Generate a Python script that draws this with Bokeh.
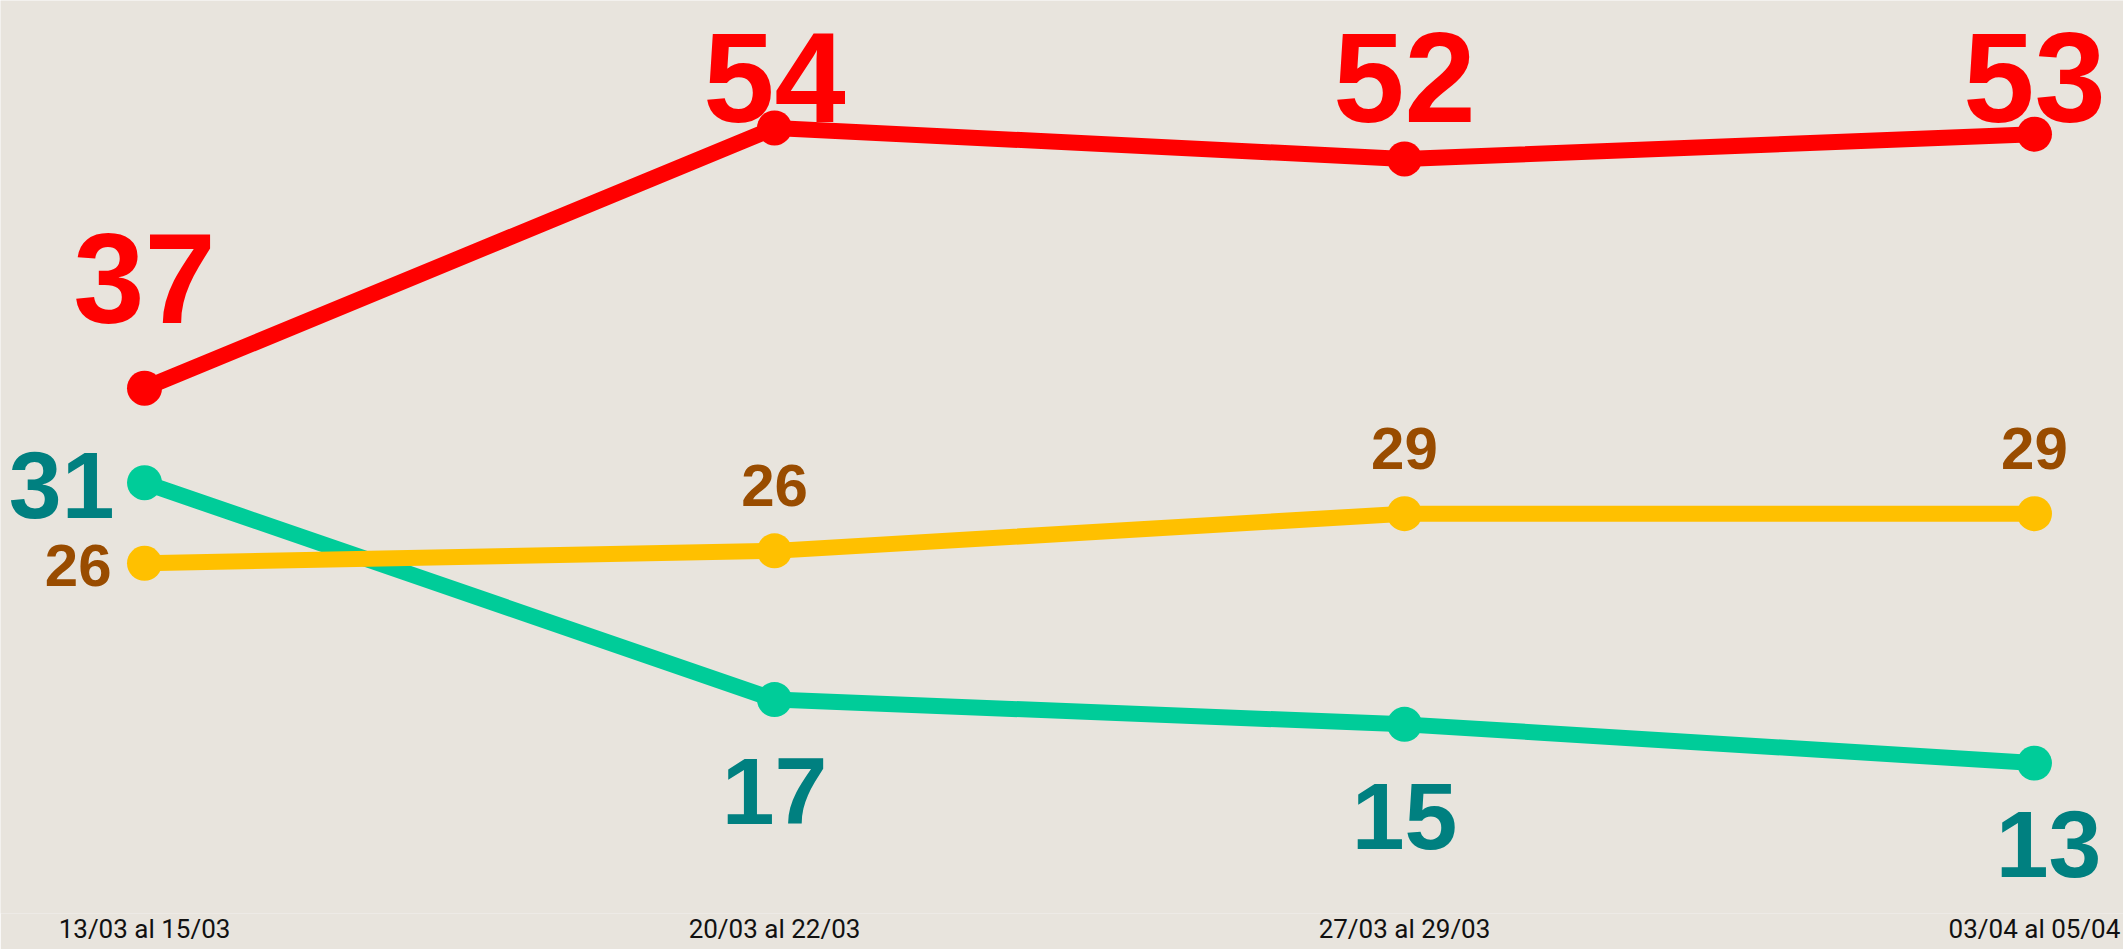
from bokeh.plotting import figure
from bokeh.models import Range1d, ColumnDataSource, FixedTicker
from bokeh.core.properties import value
from bokeh.embed import file_html
from bokeh.resources import INLINE

# ---- data ----
periods = ["13/03 al 15/03", "20/03 al 22/03", "27/03 al 29/03", "03/04 al 05/04"]
red_vals = [37.0, 53.8, 51.8, 53.4]
teal_vals = [30.9, 16.9, 15.3, 12.8]
yellow_vals = [25.7, 26.5, 28.9, 28.9]

# ---- layout constants ----
W, H = 2123, 949
BOTTOM = 36
FRAME_H = H - BOTTOM
Y0, Y1 = 3.09, 62.03
X0, X1 = -0.2286, 3.1413
BG = "#E8E4DD"
FONT = "Liberation Sans"
TICK_FONT = "Roboto"
BASE_FIX = 0.36  # em correction for the rendered baseline

def ypx(v):
    return FRAME_H * (Y1 - v) / (Y1 - Y0)

xs = list(range(len(periods)))

p = figure(width=W, height=H, x_range=Range1d(X0, X1), y_range=Range1d(Y0, Y1),
           output_backend="svg", toolbar_location=None, min_border=0,
           min_border_bottom=BOTTOM)
p.background_fill_color = BG
p.border_fill_color = BG
p.outline_line_color = None
p.xgrid.visible = False
p.ygrid.visible = False
p.yaxis.visible = False

ax = p.xaxis[0]
ax.ticker = FixedTicker(ticks=xs)
ax.major_label_overrides = {i: s for i, s in enumerate(periods)}
ax.axis_line_color = None
ax.major_tick_line_color = None
ax.minor_tick_line_color = None
ax.major_tick_out = 0
ax.major_tick_in = 0
ax.major_label_standoff = 0
ax.major_label_text_font = TICK_FONT
ax.major_label_text_font_size = "26px"
ax.major_label_text_color = "#111111"

series = [
    (teal_vals, "#00CC99"),
    (yellow_vals, "#FFC000"),
    (red_vals, "#FF0000"),
]
for vals, col in series:
    src = ColumnDataSource(dict(x=xs, y=vals))
    p.line("x", "y", source=src, line_color=col, line_width=16, line_cap="round")
    p.scatter("x", "y", source=src, size=35, fill_color=col, line_color=None)


def add_labels(ix, vals, color, size, xoff, yoff, align):
    fix = -BASE_FIX * size
    src = ColumnDataSource(dict(
        x=[xs[i] for i in ix], y=[vals[i] for i in ix],
        t=[str(int(round(vals[i]))) for i in ix],
        xo=xoff, yo=[o + fix for o in yoff]))
    p.text("x", "y", text="t", source=src, x_offset="xo", y_offset="yo",
           text_font=value(FONT), text_font_style="bold",
           text_font_size=f"{size}px", text_color=color, text_align=align,
           text_baseline="alphabetic")

RED_SZ, TEAL_SZ, YEL_SZ = 128, 95, 60

# red: above the points, kept inside the top
add_labels([0, 1, 2, 3], red_vals, "#FF0000", RED_SZ, [0, 0, 0, 0],
           [max(-64, 123 - ypx(v)) for v in red_vals], "center")

# teal: first at the left, others below (kept inside the bottom)
add_labels([0], teal_vals, "#008080", TEAL_SZ, [-30], [36], "right")
add_labels([1, 2, 3], teal_vals, "#008080", TEAL_SZ, [0, 0, 14],
           [min(126, 878 - ypx(v)) for v in teal_vals[1:]], "center")

# yellow: first at the left, others above
add_labels([0], yellow_vals, "#994C00", YEL_SZ, [-33], [24], "right")
add_labels([1, 2, 3], yellow_vals, "#994C00", YEL_SZ, [0, 0, 0], [-44, -44, -44], "center")

open("out.html", "w").write(file_html(p, INLINE))
